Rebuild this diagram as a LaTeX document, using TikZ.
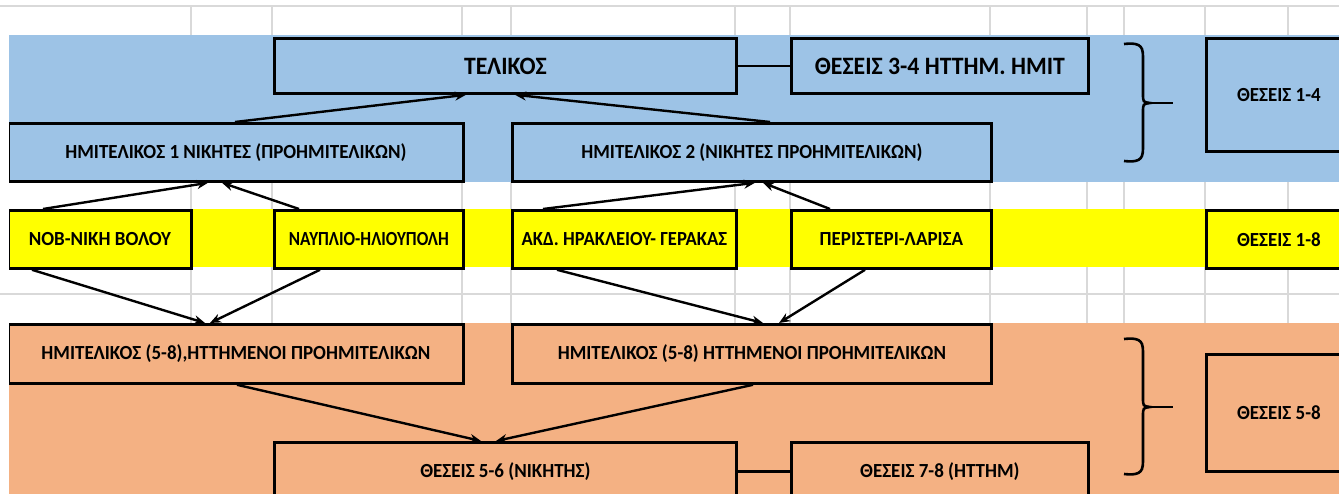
\documentclass[tikz,border=0pt]{standalone}
\usepackage{fontspec}
\setmainfont{Carlito}[FakeStretch=0.95]
\usetikzlibrary{arrows.meta}
\usetikzlibrary{calc}
\definecolor{bandblue}{HTML}{9DC3E6}
\definecolor{bandyellow}{HTML}{FFFF00}
\definecolor{bandorange}{HTML}{F4B183}
\definecolor{gridgray}{HTML}{D9D9D9}

\begin{document}
\begin{tikzpicture}[x=1pt, y=-1pt,
  cell/.style={draw, line width=2.8pt, anchor=north west, inner sep=0pt,
    font=\bfseries\fontsize{20}{24}\selectfont},
  bigcell/.style={cell, font=\bfseries\fontsize{25}{30}\selectfont},
  arr/.style={line width=2.4pt, -{Stealth[length=11pt,width=9pt]}},
  link/.style={line width=2.4pt}]
  \useasboundingbox (0,0) rectangle (1339,494);
  % sheet grid
  \foreach \x in {191, 272, 462, 511, 735, 790, 990, 1087, 1124, 1205, 1288}
    \draw[gridgray, line width=1.3pt] (\x, 6) -- (\x, 494);
  \foreach \y in {6, 294}
    \draw[gridgray, line width=1.3pt] (0, \y) -- (1339, \y);
  % colour bands
  \fill[bandblue]   (9, 35)  rectangle (1339, 182);
  \fill[bandyellow] (9, 209) rectangle (1339, 267);
  \fill[bandorange] (9, 323) rectangle (1339, 494);

  \begin{scope}
    \clip (9, 0) rectangle (1339, 494);
    % finals
    \node[bigcell, fill=bandblue, minimum width=462, minimum height=55] (fin) at (273, 37) {ΤΕΛΙΚΟΣ};
    \node[bigcell, fill=bandblue, minimum width=297, minimum height=55] (third) at (790, 37) {ΘΕΣΕΙΣ 3-4 ΗΤΤΗΜ. ΗΜΙΤ};
    \node[cell, fill=bandblue, minimum width=145, minimum height=113] (top4) at (1205, 37) {ΘΕΣΕΙΣ 1-4};
    \node[cell, fill=bandblue, minimum width=455, minimum height=58] (semi1) at (7, 122) {ΗΜΙΤΕΛΙΚΟΣ 1 ΝΙΚΗΤΕΣ (ΠΡΟΗΜΙΤΕΛΙΚΩΝ)};
    \node[cell, fill=bandblue, minimum width=479, minimum height=58] (semi2) at (511, 122) {ΗΜΙΤΕΛΙΚΟΣ 2 (ΝΙΚΗΤΕΣ ΠΡΟΗΜΙΤΕΛΙΚΩΝ)};
    % quarter finals
    \node[cell, fill=bandyellow, minimum width=183, minimum height=58] (nob) at (7, 209) {ΝΟΒ-ΝΙΚΗ ΒΟΛΟΥ};
    \node[cell, fill=bandyellow, minimum width=189, minimum height=58] (nav) at (273, 209) {\scalebox{0.9}[1]{ΝΑΥΠΛΙΟ-ΗΛΙΟΥΠΟΛΗ}};
    \node[cell, fill=bandyellow, minimum width=224, minimum height=58] (akd) at (511, 209) {\scalebox{0.98}[1]{ΑΚΔ. ΗΡΑΚΛΕΙΟΥ- ΓΕΡΑΚΑΣ}};
    \node[cell, fill=bandyellow, minimum width=200, minimum height=58] (per) at (790, 209) {ΠΕΡΙΣΤΕΡΙ-ΛΑΡΙΣΑ};
    \node[cell, fill=bandyellow, minimum width=145, minimum height=58] (top8) at (1205, 209) {ΘΕΣΕΙΣ 1-8};
    % places 5-8
    \node[cell, fill=bandorange, minimum width=455, minimum height=59] (lsemi1) at (7, 323) {ΗΜΙΤΕΛΙΚΟΣ (5-8),ΗΤΤΗΜΕΝΟΙ ΠΡΟΗΜΙΤΕΛΙΚΩΝ};
    \node[cell, fill=bandorange, minimum width=479, minimum height=59] (lsemi2) at (511, 323) {ΗΜΙΤΕΛΙΚΟΣ (5-8) ΗΤΤΗΜΕΝΟΙ ΠΡΟΗΜΙΤΕΛΙΚΩΝ};
    \node[cell, fill=bandorange, minimum width=462, minimum height=58] (fifth) at (273, 441) {ΘΕΣΕΙΣ 5-6 (ΝΙΚΗΤΗΣ)};
    \node[cell, fill=bandorange, minimum width=297, minimum height=58] (seventh) at (790, 441) {ΘΕΣΕΙΣ 7-8 (ΗΤΤΗΜ)};
    \node[cell, fill=bandorange, minimum width=145, minimum height=117] (top58) at (1205, 353) {ΘΕΣΕΙΣ 5-8};
  \end{scope}

  % arrows
  \draw[arr] ([xshift=228pt]semi1.north west) -- ([xshift=193pt]fin.south west);
  \draw[arr] ([xshift=259pt]semi2.north west) -- ([xshift=242pt]fin.south west);
  \draw[arr] ([xshift=36pt]nob.north west) -- ([xshift=201pt]semi1.south west);
  \draw[arr] ([xshift=26pt]nav.north west) -- ([xshift=215pt]semi1.south west);
  \draw[arr] ([xshift=32pt]akd.north west) -- ([xshift=244pt]semi2.south west);
  \draw[arr] ([xshift=40pt]per.north west) -- ([xshift=252pt]semi2.south west);
  \draw[arr] ([xshift=25pt]nob.south west) -- ([xshift=198pt]lsemi1.north west);
  \draw[arr] ([xshift=47pt]nav.south west) -- ([xshift=203pt]lsemi1.north west);
  \draw[arr] ([xshift=46pt]akd.south west) -- ([xshift=252pt]lsemi2.north west);
  \draw[arr] ([xshift=75pt]per.south west) -- ([xshift=268pt]lsemi2.north west);
  \draw[arr] ([xshift=230pt]lsemi1.south west) -- ([xshift=208pt]fifth.north west);
  \draw[arr] ([xshift=242pt]lsemi2.south west) -- ([xshift=223pt]fifth.north west);
  \draw[link] (fin.east) -- (third.west);
  \draw[link] (fifth.east) -- (seventh.west);

  % braces
  \foreach \t/\m/\b in {44/103/161, 339/407/474} {
    \draw[line width=2.6pt] (1124, \t) .. controls (1143, \t-2) and (1143, \t+4) .. (1143, \t+16)
      -- (1143, \m-9) .. controls (1143, \m-1) .. (1150, \m)
      .. controls (1143, \m+1) .. (1143, \m+9)
      -- (1143, \b-16) .. controls (1143, \b-4) and (1143, \b+2) .. (1124, \b);
    \draw[line width=2.6pt] (1148, \m) -- (1173, \m);
  }
\end{tikzpicture}
\end{document}
